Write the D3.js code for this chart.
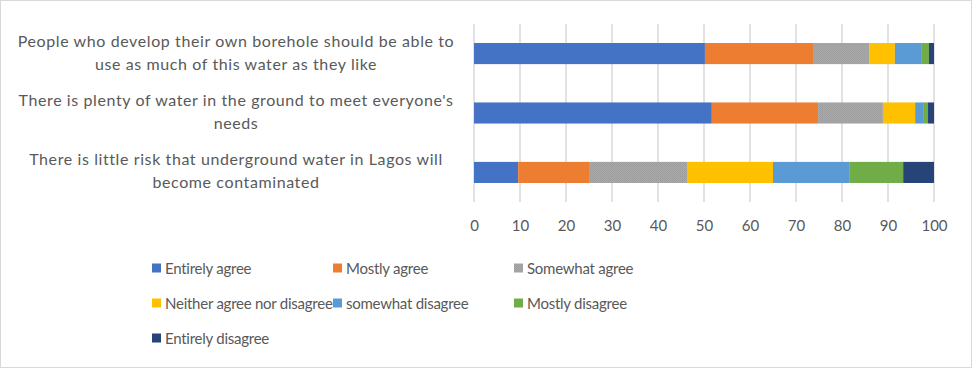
<!DOCTYPE html>
<html lang="en">
<head>
<meta charset="UTF-8">
<title>Groundwater attitudes</title>
<script src="https://d3js.org/d3.v7.min.js"></script>
<style>
  body, html { margin: 0; padding: 0; background: #fff; }
  svg { display: block; font-family: Lato, "Open Sans", sans-serif; }
</style>
</head>
<body>
<div id="chart"></div>
<script>
// statements (top to bottom), each split in two lines
var statements = [
  ["People who develop their own borehole should be able to", "use as much of this water as they like"],
  ["There is plenty of water in the ground to meet everyone's", "needs"],
  ["There is little risk that underground water in Lagos will", "become contaminated"]
];
var seriesNames = ["Entirely agree", "Mostly agree", "Somewhat agree", "Neither agree nor disagree",
                   "somewhat disagree", "Mostly disagree", "Entirely disagree"];
var seriesColors = ["#4472c4", "#ed7d31", "url(#grayDots)", "#ffc000", "#5b9bd5", "#70ad47", "#264478"];
// percentages per statement, same order as seriesNames
var entirelyAgree   = [50.2, 51.7, 9.6];
var mostlyAgree     = [23.5, 23.1, 15.4];
var somewhatAgree   = [12.3, 14.1, 21.3];
var neither         = [5.5, 7.0, 18.7];
var somewhatDis     = [5.7, 1.9, 16.7];
var mostlyDis       = [1.7, 0.9, 11.6];
var entirelyDis     = [1.1, 1.3, 6.7];
var xTicks = [0, 10, 20, 30, 40, 50, 60, 70, 80, 90, 100];

var W = 972, H = 368;
var values = [entirelyAgree, mostlyAgree, somewhatAgree, neither, somewhatDis, mostlyDis, entirelyDis];
var rows = statements.map(function (s, i) {
  var r = { key: i };
  seriesNames.forEach(function (n, j) { r[n] = values[j][i]; });
  return r;
});

var svg = d3.select("#chart").append("svg").attr("width", W).attr("height", H);

// speckled gray like the excel fill
var pat = svg.append("defs").append("pattern").attr("id", "grayDots")
  .attr("patternUnits", "userSpaceOnUse").attr("width", 2).attr("height", 2);
pat.append("rect").attr("width", 2).attr("height", 2).attr("fill", "#a8a8a8");
pat.append("rect").attr("width", 1).attr("height", 1).attr("fill", "#9c9c9c");
pat.append("rect").attr("x", 1).attr("y", 1).attr("width", 1).attr("height", 1).attr("fill", "#a2a2a2");

svg.append("rect").attr("x", 0.5).attr("y", 0.5).attr("width", W - 1).attr("height", H - 1)
  .attr("fill", "#fff").attr("stroke", "#d9d9d9");

var x = d3.scaleLinear().domain([0, 100]).range([474, 934]);
var y = d3.scaleBand().domain(d3.range(statements.length)).range([24, 202]).paddingInner(0.645).paddingOuter(0.32);

// gridlines
svg.append("g").selectAll("line").data(xTicks).join("line")
  .attr("x1", d => x(d)).attr("x2", d => x(d))
  .attr("y1", 24).attr("y2", 202)
  .attr("stroke", "#d9d9d9").attr("stroke-width", 1.5);

var stack = d3.stack().keys(seriesNames)(rows);
svg.append("g").selectAll("g").data(stack).join("g")
  .attr("fill", (d, i) => seriesColors[i])
  .selectAll("rect").data(d => d).join("rect")
  .attr("x", d => x(d[0]))
  .attr("width", d => x(d[1]) - x(d[0]))
  .attr("y", (d, i) => y(i))
  .attr("height", y.bandwidth());

// x axis labels
var xAxis = d3.axisBottom(x).tickValues(xTicks).tickSize(0).tickPadding(0);
var gx = svg.append("g").attr("transform", "translate(0,220)").call(xAxis);
gx.select(".domain").remove();
gx.selectAll("text").attr("fill", "#595959").style("font-size", "15px")
  .style("font-family", "Lato, 'Open Sans', sans-serif");

// category labels
var lab = svg.append("g").selectAll("text").data(statements).join("text")
  .attr("x", 236)
  .attr("y", (d, i) => y(i) + y.bandwidth() / 2 - 7)
  .attr("text-anchor", "middle")
  .attr("fill", "#595959").style("font-size", "16px").style("letter-spacing", "0.6px");
lab.selectAll("tspan").data(d => d).join("tspan")
  .attr("x", 236).attr("dy", (d, j) => j === 0 ? 0 : 23)
  .text(d => d);

// legend
var legPos = [[152, 268], [333, 268], [514, 268], [152, 303], [333, 303], [514, 303], [152, 338]];
var leg = svg.append("g").selectAll("g").data(seriesNames).join("g")
  .attr("transform", (d, i) => "translate(" + legPos[i][0] + "," + legPos[i][1] + ")");
leg.append("rect").attr("x", 0).attr("y", -4.5).attr("width", 9).attr("height", 9)
  .attr("fill", (d, i) => seriesColors[i]);
leg.append("text").attr("x", 13).attr("y", 5.5).attr("fill", "#595959")
  .style("font-size", "15px").style("letter-spacing", "-0.25px").text(d => d);
</script>
</body>
</html>
